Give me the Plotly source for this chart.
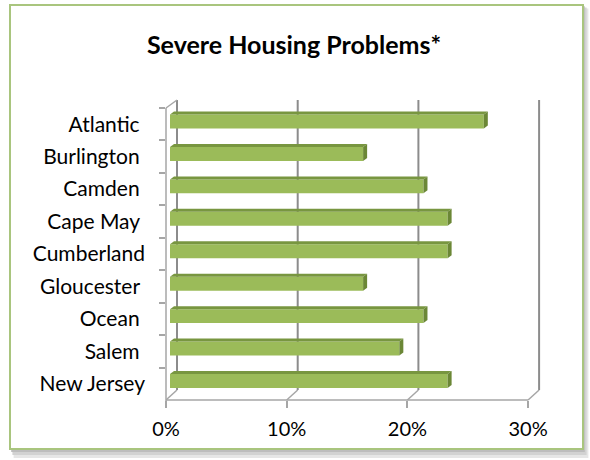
import plotly.graph_objects as go

# ---------------- data ----------------
categories = ["Atlantic", "Burlington", "Camden", "Cape May", "Cumberland",
              "Gloucester", "Ocean", "Salem", "New Jersey"]
values = [0.26, 0.16, 0.21, 0.23, 0.23, 0.16, 0.21, 0.19, 0.23]
tick_values = [0, 0.1, 0.2, 0.3]
tick_labels = ["0%", "10%", "20%", "30%"]
trailing_space = ["Atlantic", "Burlington", "Camden", "Cape May",
                  "Gloucester", "Ocean", "Salem"]
title_text = "Severe Housing Problems*"

# ---------------- geometry / style ----------------
W, H = 590, 460
ML, MR, MT, MB = 166, 45, 96, 60
PW, PH = W - ML - MR, H - MT - MB
PPU = 1207.0                 # pixels per 100 %
FLOOR_Y = MT + PH            # front edge of floor (px)
SLOT_TOP = 108               # top of first category slot (px)
SLOT = (FLOOR_Y - SLOT_TOP) / len(categories)
WALL_DX, WALL_DY = 11, 10    # depth of the 3-D box
WALL_TOP = 100
BAR_SHIFT = 4                # bar front face depth (px)
BAR_DX, BAR_DY = 4, 3        # bar depth
BAR_W, BAR_OFF = 0.43, -0.30

FONT = "Lato"
GREEN = "#9BBB59"
TOP_GREEN = "#789640"
SIDE_GREEN = "#6B8736"
GRID = "#8C8C8C"
AXIS = "#A6A6A6"


def xp(px):
    return (px - ML) / PW


def yp(py):
    return (MT + PH - py) / PH


fig = go.Figure()

fig.add_trace(go.Bar(
    x=values, y=categories, orientation="h",
    xaxis="x2", yaxis="y",
    width=BAR_W, offset=BAR_OFF,
    marker=dict(color=GREEN, line=dict(width=0)),
    hoverinfo="skip",
))

shapes = []

# chart-area shadow and frame
for (d, col) in [(9, "#E6E6E6"), (6, "#D2D2D2"), (3, "#BDBDBD")]:
    shapes.append(dict(type="rect", xref="paper", yref="paper", layer="below",
                       x0=xp(10 + d * 0.4), x1=xp(583 + d * 0.6),
                       y0=yp(5 + d * 0.4), y1=yp(449 + d),
                       fillcolor=col, line=dict(width=0)))
shapes.append(dict(type="rect", xref="paper", yref="paper", layer="below",
                   x0=xp(10), x1=xp(583), y0=yp(5), y1=yp(449),
                   fillcolor="white", line=dict(color="#A9C57E", width=2)))

dxw = WALL_DX / PPU
for v in tick_values:
    # back-wall gridline
    shapes.append(dict(type="line", xref="x", yref="paper", layer="below",
                       x0=v + dxw, x1=v + dxw,
                       y0=yp(FLOOR_Y - WALL_DY), y1=yp(WALL_TOP),
                       line=dict(color=GRID, width=2)))
    # floor diagonal
    shapes.append(dict(type="line", xref="x", yref="paper", layer="below",
                       x0=v, x1=v + dxw,
                       y0=yp(FLOOR_Y), y1=yp(FLOOR_Y - WALL_DY),
                       line=dict(color=AXIS, width=1.5)))
# floor front edge
shapes.append(dict(type="line", xref="x", yref="paper", layer="below",
                   x0=tick_values[0], x1=tick_values[-1],
                   y0=yp(FLOOR_Y), y1=yp(FLOOR_Y),
                   line=dict(color=AXIS, width=1.5)))
# left wall front edge and top
shapes.append(dict(type="line", xref="paper", yref="paper", layer="below",
                   x0=0, x1=0, y0=yp(FLOOR_Y + 7), y1=yp(SLOT_TOP),
                   line=dict(color=AXIS, width=1.5)))
shapes.append(dict(type="line", xref="paper", yref="paper", layer="below",
                   x0=0, x1=xp(ML + WALL_DX), y0=yp(SLOT_TOP), y1=yp(WALL_TOP),
                   line=dict(color=AXIS, width=1.5)))

# 3-D faces of the bars
bdx = BAR_DX / PPU
bdy = BAR_DY / SLOT
for i, v in enumerate(values):
    top = i + BAR_OFF
    bot = top + BAR_W
    shapes.append(dict(type="path", xref="x2", yref="y", layer="above",
                       path=f"M 0,{top} L {v},{top} L {v + bdx},{top - bdy} L {bdx},{top - bdy} Z",
                       fillcolor=TOP_GREEN, line=dict(width=0)))
    shapes.append(dict(type="path", xref="x2", yref="y", layer="above",
                       path=f"M {v},{top} L {v + bdx},{top - bdy} L {v + bdx},{bot - bdy} L {v},{bot} Z",
                       fillcolor=SIDE_GREEN, line=dict(width=0)))

fig.update_layout(
    width=W, height=H,
    margin=dict(l=ML, r=MR, t=MT, b=MB, pad=0),
    paper_bgcolor="white",
    plot_bgcolor="rgba(0,0,0,0)",
    showlegend=False,
    title=dict(text=f"<b>{title_text}</b>", x=294 / W, xanchor="center",
               xref="container", yref="container", y=1 - 45 / H, yanchor="middle",
               font=dict(family=FONT, size=25, color="black")),
    font=dict(family=FONT, size=20, color="black"),
    xaxis=dict(range=[0, PW / PPU], tickvals=tick_values, ticktext=tick_labels,
               ticks="outside", ticklen=7, tickwidth=1.5, tickcolor=AXIS,
               showgrid=False, zeroline=False, showline=False,
               ticklabelstandoff=4,
               tickfont=dict(family=FONT, size=20, color="black"),
               fixedrange=True),
    xaxis2=dict(range=[-BAR_SHIFT / PPU, (PW - BAR_SHIFT) / PPU],
                overlaying="x", visible=False, fixedrange=True),
    yaxis=dict(type="category", categoryorder="array", categoryarray=categories,
               range=[len(categories) - 0.5, -0.5 - (SLOT_TOP - MT) / SLOT],
               tickson="boundaries", ticks="outside", ticklen=6, tickwidth=1.5,
               tickcolor=AXIS, showgrid=False, zeroline=False, showline=False,
               ticklabelstandoff=20,
               labelalias={c: c + "\u00a0" for c in trailing_space},
               tickfont=dict(family=FONT, size=21, color="black"),
               fixedrange=True),
    shapes=shapes,
)

fig.write_html("out.html", config={"displayModeBar": False},
               post_script="document.body.style.margin='0px';")
